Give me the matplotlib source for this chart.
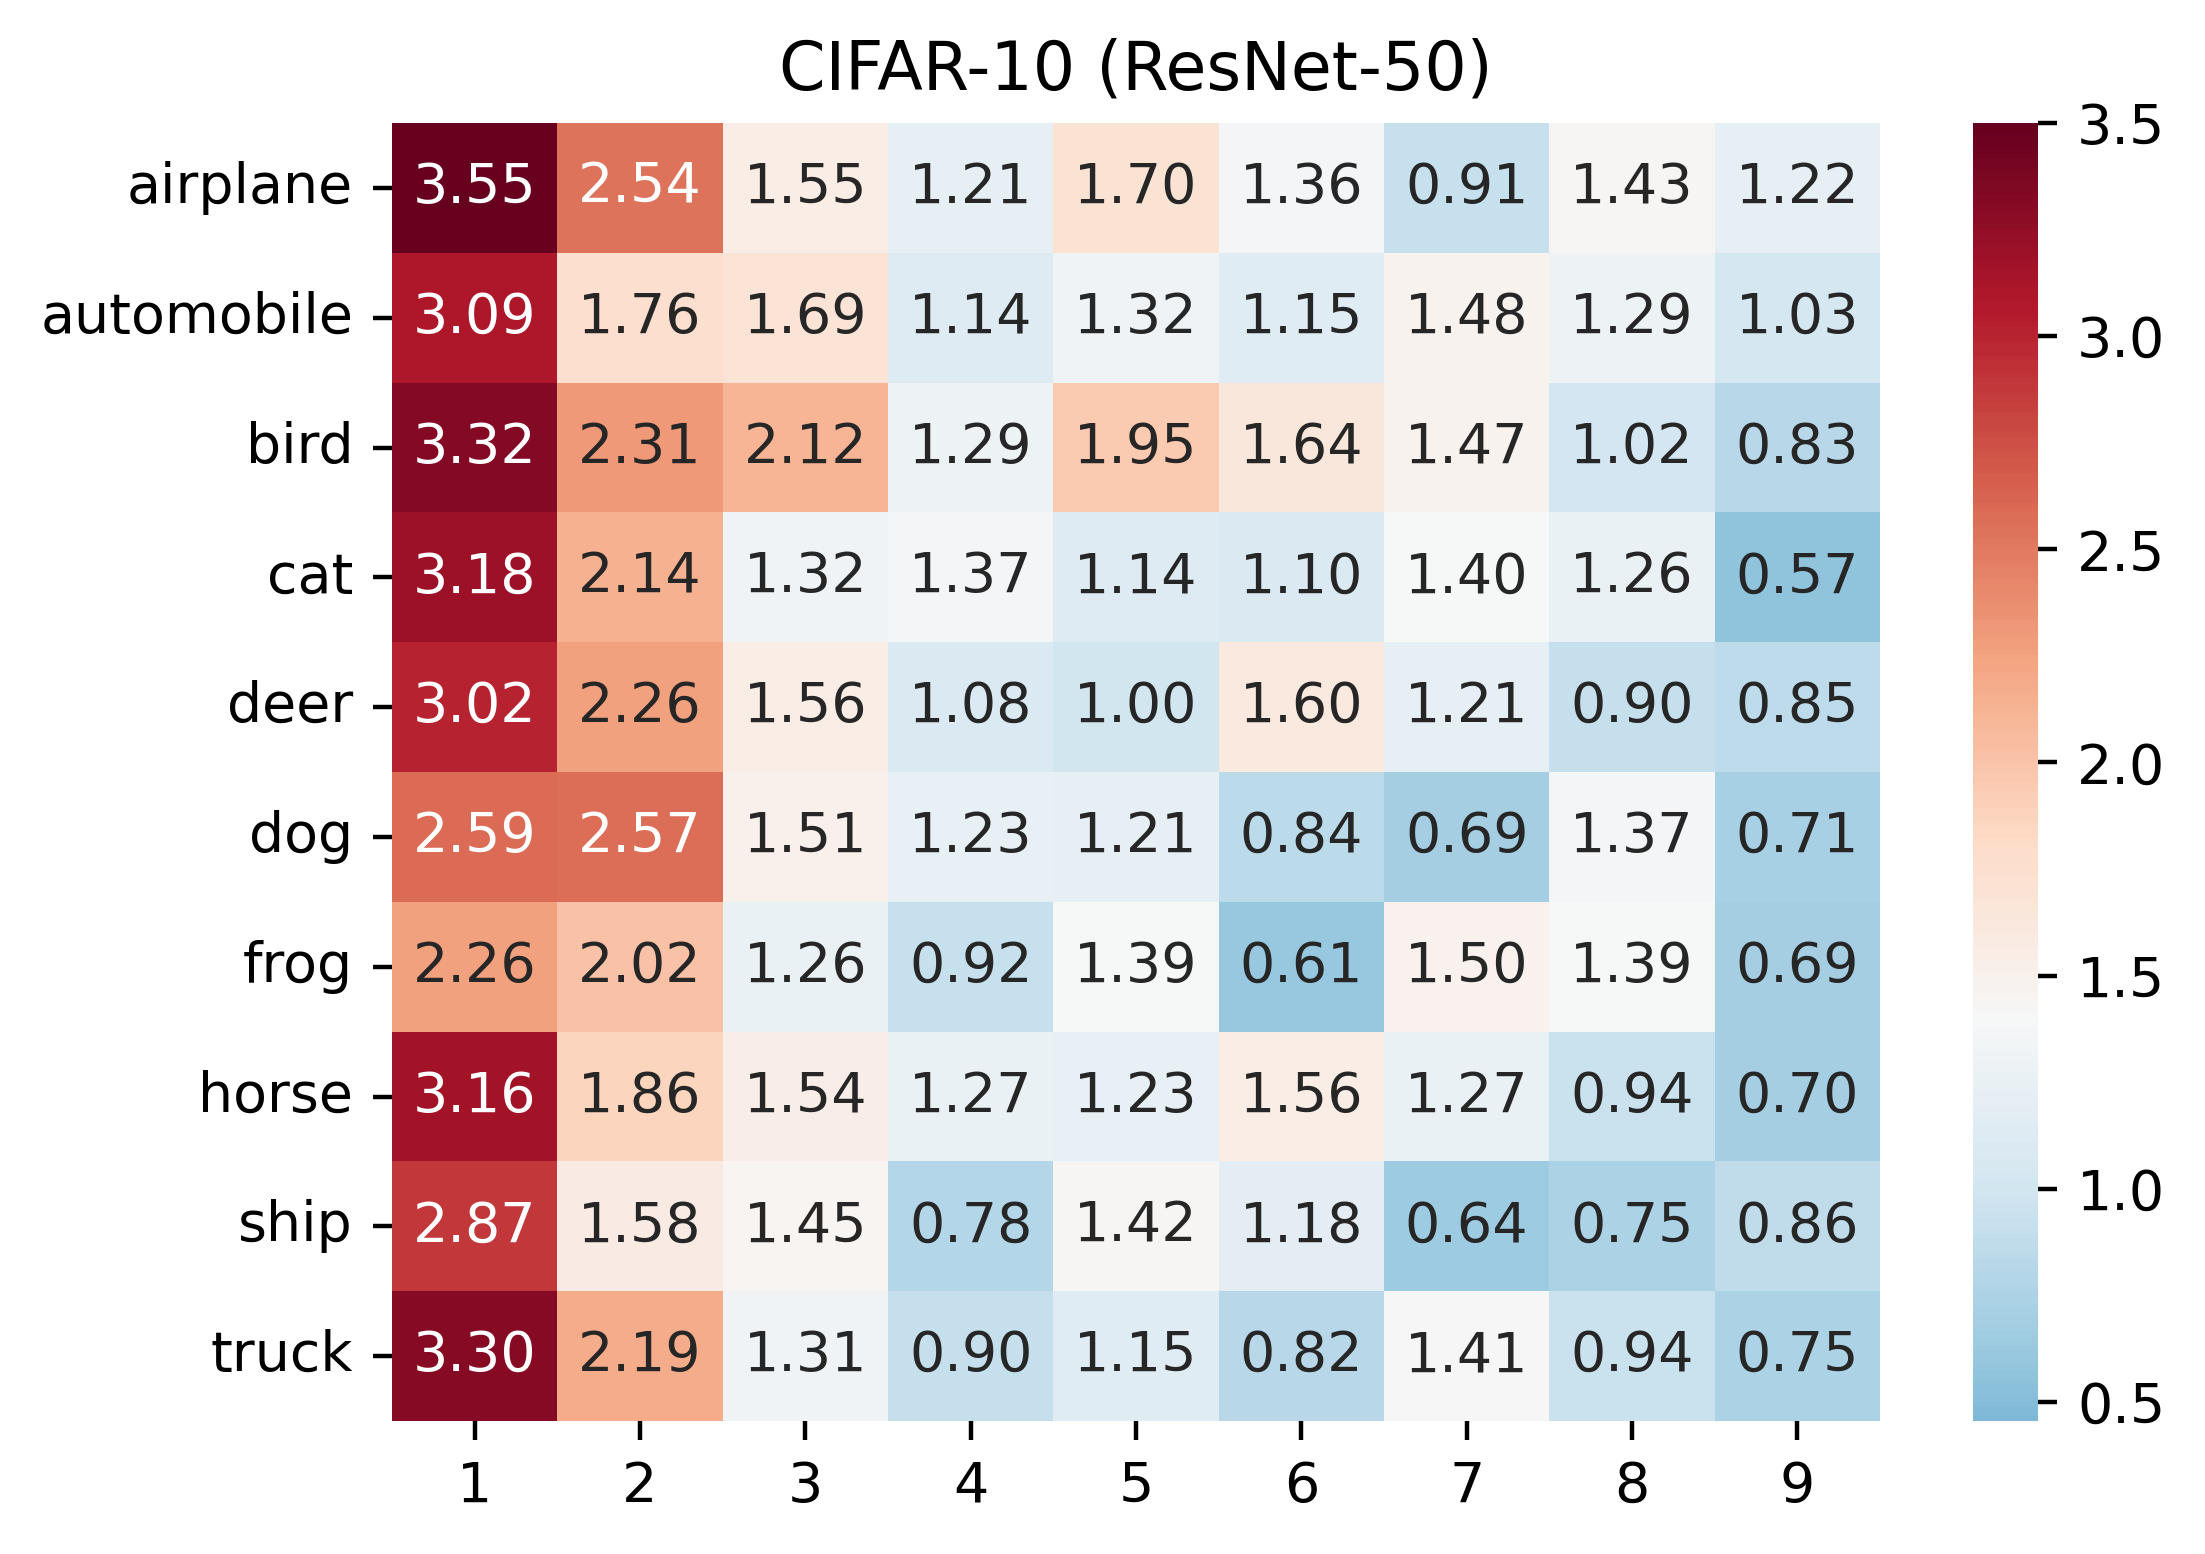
import numpy as np
import matplotlib
matplotlib.use("Agg")
import matplotlib.pyplot as plt
import seaborn as sns

classes = ["airplane", "automobile", "bird", "cat", "deer", "dog", "frog", "horse", "ship", "truck"]
columns = ["1", "2", "3", "4", "5", "6", "7", "8", "9"]
airplane = [3.55, 2.54, 1.55, 1.21, 1.70, 1.36, 0.91, 1.43, 1.22]
automobile = [3.09, 1.76, 1.69, 1.14, 1.32, 1.15, 1.48, 1.29, 1.03]
bird = [3.32, 2.31, 2.12, 1.29, 1.95, 1.64, 1.47, 1.02, 0.83]
cat = [3.18, 2.14, 1.32, 1.37, 1.14, 1.10, 1.40, 1.26, 0.57]
deer = [3.02, 2.26, 1.56, 1.08, 1.00, 1.60, 1.21, 0.90, 0.85]
dog = [2.59, 2.57, 1.51, 1.23, 1.21, 0.84, 0.69, 1.37, 0.71]
frog = [2.26, 2.02, 1.26, 0.92, 1.39, 0.61, 1.50, 1.39, 0.69]
horse = [3.16, 1.86, 1.54, 1.27, 1.23, 1.56, 1.27, 0.94, 0.70]
ship = [2.87, 1.58, 1.45, 0.78, 1.42, 1.18, 0.64, 0.75, 0.86]
truck = [3.30, 2.19, 1.31, 0.90, 1.15, 0.82, 1.41, 0.94, 0.75]
cbar_ticks = [0.5, 1.0, 1.5, 2.0, 2.5, 3.0, 3.5]

data = np.array([airplane, automobile, bird, cat, deer, dog, frog, horse, ship, truck])

fig = plt.figure(figsize=(2205 / 400, 1554 / 400), dpi=400)
ax = fig.add_axes([0.1778, 0.0856, 0.6748, 0.8352])
cax = fig.add_axes([0.8948, 0.0856, 0.0295, 0.8352])
sns.heatmap(data, ax=ax, cbar_ax=cax, cmap="RdBu_r", center=1.4, vmin=0.455, vmax=3.5,
            annot=True, fmt=".2f", annot_kws={"fontsize": 10},
            xticklabels=columns, yticklabels=classes)
ax.set_title("CIFAR-10 (ResNet-50)", fontsize=12)
ax.tick_params(labelsize=10)
ax.set_yticklabels(classes, rotation=0)
cax.set_yticks(cbar_ticks)
cax.tick_params(labelsize=10)
fig.savefig("out.png", dpi=400)
